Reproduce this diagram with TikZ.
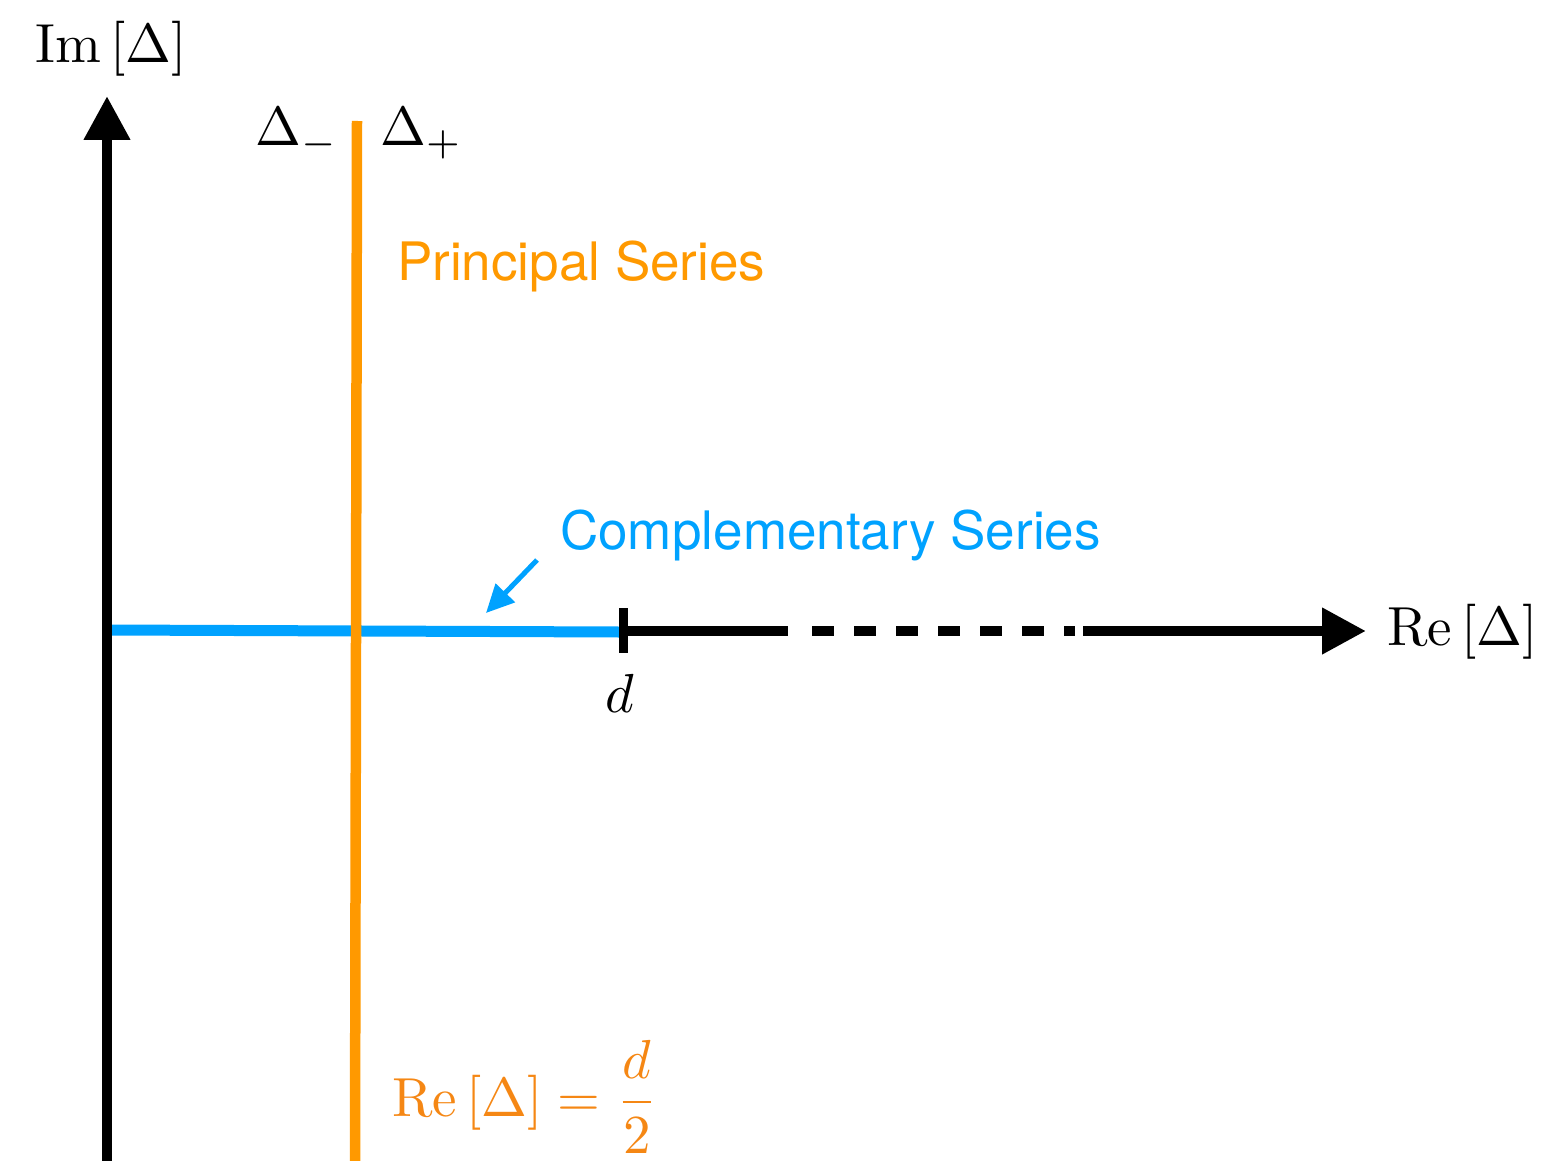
\documentclass[tikz,border=0pt]{standalone}
\usepackage{amsmath}
\usepackage{fontspec}
\newfontfamily\heros{TeX Gyre Heros}
\usetikzlibrary{arrows.meta}
\definecolor{porange}{RGB}{255,153,0}
\definecolor{torange}{RGB}{245,135,20}
\definecolor{cblue}{RGB}{0,162,255}
\newcommand{\bigmath}[1]{\scalebox{5.5}{#1}}
\begin{document}
\begin{tikzpicture}[x=1pt,y=-1pt,
  lbl/.style={inner sep=0pt},
  sans/.style={inner sep=0pt, font=\heros\fontsize{53}{60}\selectfont},
  axisline/.style={line width=10.5pt, -{Triangle[length=44pt,width=44pt]}},
  thick line/.style={line width=10.5pt},
]
\useasboundingbox (0,0) rectangle (1542,1161);
% coordinates
\coordinate (O) at (107,1161);
\coordinate (Ytip) at (107,96);
\coordinate (Ptop) at (357,121);
\coordinate (Pbot) at (355,1161);
\coordinate (Bl) at (107,630);
\coordinate (Br) at (619,632);
\coordinate (Tt) at (623,608);
\coordinate (Tb) at (623,653);
\coordinate (S1a) at (619,631);
\coordinate (S1b) at (788,631);
\coordinate (Da) at (812,631);
\coordinate (Db) at (1075,631);
\coordinate (S2a) at (1083,631);
\coordinate (Xtip) at (1366,631);
\coordinate (Aa) at (537,560);
\coordinate (Ab) at (486,613);
% complementary series line
\draw[cblue, line width=11pt] (Bl) -- (Br);
% imaginary axis
\draw[axisline] (O) -- (Ytip);
% principal series line
\draw[porange, line width=10.5pt] (Pbot) -- (Ptop);
% real axis pieces
\draw[line width=9pt] (Tt) -- (Tb);
\draw[thick line] (S1a) -- (S1b);
\draw[thick line, dash pattern=on 22pt off 20pt] (Da) -- (Db);
\draw[axisline] (S2a) -- (Xtip);
% blue pointer
\draw[cblue, line width=5pt, -{Triangle[length=28pt,width=26pt]}] (Aa) -- (Ab);
% labels
\node[lbl, anchor=base west] (im) at (35,63) {\bigmath{$\mathrm{Im}\,[\Delta]$}};
\node[lbl, anchor=base west] (dm) at (255,146) {\bigmath{$\Delta_-$}};
\node[lbl, anchor=base west] (dp) at (380,146) {\bigmath{$\Delta_+$}};
\node[sans, text=porange, anchor=base west] (ps) at (397,280) {Principal Series};
\node[sans, text=cblue, anchor=base west] (cs) at (560,549) {Complementary Series};
\node[lbl, anchor=base west] (re) at (1387,645) {\bigmath{$\mathrm{Re}\,[\Delta]$}};
\node[lbl, anchor=base] (d) at (620,712) {\bigmath{$d$}};
\node[lbl, text=torange, anchor=base west] (eq) at (392,1116) {\bigmath{$\mathrm{Re}\,[\Delta] = \dfrac{d}{2}$}};
\end{tikzpicture}
\end{document}
